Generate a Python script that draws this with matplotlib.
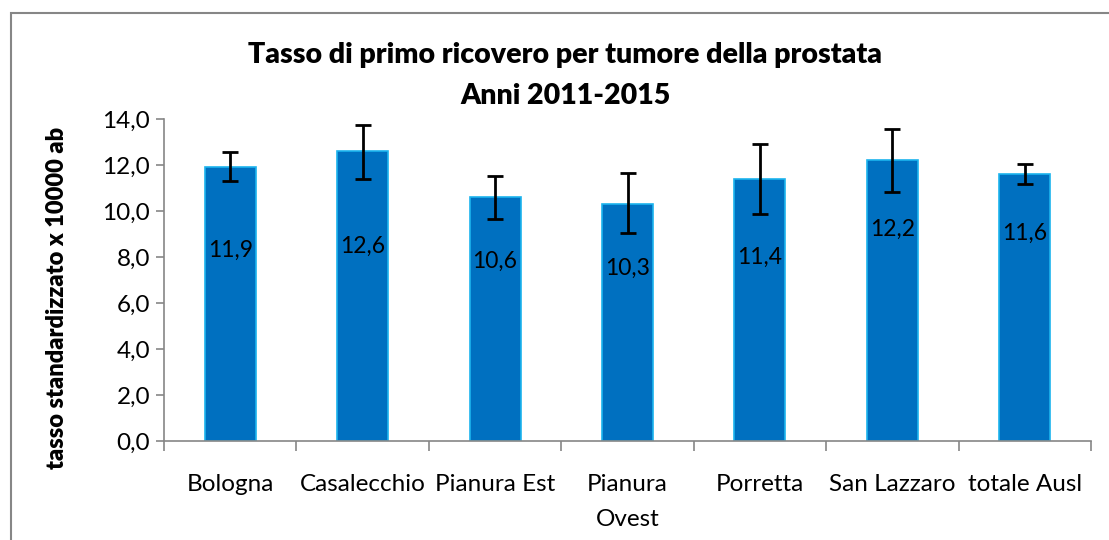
import matplotlib.pyplot as plt
from matplotlib.patches import Rectangle
from matplotlib.ticker import FuncFormatter, MultipleLocator

plt.rcParams['font.family'] = ['Lato', 'DejaVu Sans']

zone = ["Bologna", "Casalecchio", "Pianura Est", "Pianura\nOvest",
        "Porretta", "San Lazzaro", "totale Ausl"]
tasso = [11.9, 12.6, 10.6, 10.3, 11.4, 12.2, 11.6]
ic_inf = [11.30, 11.38, 9.64, 9.03, 9.87, 10.83, 11.17]
ic_sup = [12.58, 13.75, 11.51, 11.64, 12.91, 13.58, 12.03]
# height of the value labels inside the bars
label_y = [8.3, 8.45, 7.8, 7.5, 8.0, 9.2, 9.05]

fig = plt.figure(figsize=(11.09, 5.4), dpi=100)
ax = fig.add_axes([164 / 1109, 1 - 441 / 540, 927 / 1109, 322 / 540])

x = list(range(len(zone)))
err = [[t - lo for t, lo in zip(tasso, ic_inf)],
       [hi - t for t, hi in zip(tasso, ic_sup)]]
ax.bar(x, tasso, width=0.385, color="#0070C0", edgecolor="#1CB4EE",
       linewidth=1.2, zorder=2)
ax.errorbar(x, tasso, yerr=err, fmt="none", ecolor="black",
            elinewidth=2, capsize=6, capthick=2, zorder=3)

for xi, v, ly in zip(x, tasso, label_y):
    ax.text(xi, ly, f"{v:.1f}".replace(".", ","), ha="center", va="center",
            fontsize=16.5, color="black", zorder=4)

ax.set_xlim(-0.5, len(zone) - 0.5)
ax.set_ylim(0, 14)
ax.yaxis.set_major_locator(MultipleLocator(2))
ax.yaxis.set_major_formatter(FuncFormatter(lambda v, p: f"{v:.1f}".replace(".", ",")))
ax.set_xticks([i - 0.5 for i in range(len(zone) + 1)], minor=False)
ax.set_xticklabels([])
ax.set_xticks(x, minor=True)
ax.set_xticklabels(zone, minor=True, fontsize=17.5, linespacing=1.8)
ax.tick_params(axis="x", which="major", length=7, color="#868686", width=1.2)
ax.tick_params(axis="x", which="minor", length=0, pad=24)
ax.tick_params(axis="y", length=6, color="#868686", width=1.2,
               labelsize=17.5, pad=4)

for side in ("top", "right"):
    ax.spines[side].set_visible(False)
for side in ("left", "bottom"):
    ax.spines[side].set_color("#868686")
    ax.spines[side].set_linewidth(1.2)

ax.set_ylabel("tasso standardizzato x 10000 ab", fontsize=17,
              fontweight="heavy")
ax.yaxis.set_label_coords(-0.104, 0.444)

fig.text(565 / 1109, 1 - 55 / 540, "Tasso di primo ricovero per tumore della prostata",
         ha="center", va="center", fontsize=20.5, fontweight="heavy")
fig.text(565 / 1109, 1 - 96 / 540, "Anni 2011-2015",
         ha="center", va="center", fontsize=20.5, fontweight="heavy")

# chart frame
fig.patches.append(Rectangle((11 / 1109, -0.1), 1.2, 1.1 - 13 / 540,
                             transform=fig.transFigure, fill=False,
                             edgecolor="#868686", linewidth=1.5))

fig.savefig("out.png", dpi=100)
